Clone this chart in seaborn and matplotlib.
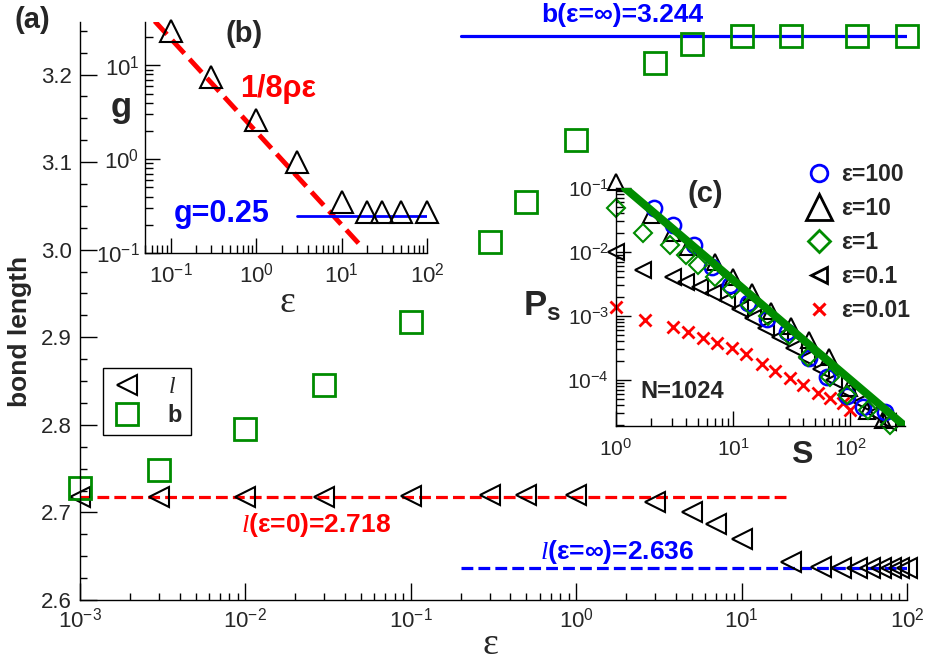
import numpy as np
import seaborn as sns
import matplotlib.pyplot as plt
from matplotlib.lines import Line2D
from matplotlib.ticker import LogLocator, MultipleLocator, FuncFormatter, NullFormatter

# ---- panel (a): bond lengths vs epsilon ----
eps_l = [0.001, 0.003, 0.01, 0.03, 0.1, 0.3, 0.5, 1, 3, 5, 7, 10,
         20, 30, 40, 50, 60, 70, 80, 90, 100]
l_len = [2.718, 2.718, 2.718, 2.718, 2.719, 2.720, 2.720, 2.720, 2.712, 2.700, 2.687, 2.670,
         2.643, 2.638, 2.636, 2.636, 2.636, 2.636, 2.636, 2.636, 2.636]
eps_b = [0.001, 0.003, 0.01, 0.03, 0.1, 0.3, 0.5, 1, 3, 5, 10, 20, 50, 100]
b_len = [2.728, 2.749, 2.795, 2.845, 2.917, 3.009, 3.055, 3.125, 3.213, 3.235,
         3.244, 3.244, 3.244, 3.244]
l_eps0 = 2.718
l_inf = 2.636
b_inf = 3.244
l_eps0_range = [0.001, 20]
inf_range = [0.2, 100]

# ---- inset (b): g vs epsilon ----
eps_g = [0.1, 0.3, 1, 3, 10, 20, 30, 50, 100]
g_vals = [23, 7.6, 2.6, 0.93, 0.35, 0.272, 0.272, 0.272, 0.272]
fit_eps = [0.065, 15.8]
fit_g = [29.6, 0.127]
g_inf = 0.25
g_inf_range = [3, 100]

# ---- inset (c): P_s vs s, N=1024 ----
s_e100 = [2.1, 3.1, 4.6, 6.6, 9.4, 13.5, 19.5, 29, 45, 64, 94, 130, 200]
p_e100 = [0.049, 0.026, 0.013, 0.0059, 0.0030, 0.0016, 9.0e-4, 5.6e-4, 2.2e-4,
          1.1e-4, 5.5e-5, 3.7e-5, 3.2e-5]
s_e10 = [1, 2, 3, 4.1, 7, 10, 14.5, 21, 31, 45, 66, 98, 140, 190]
p_e10 = [0.124, 0.038, 0.020, 0.012, 0.0069, 0.0041, 0.0024, 1.2e-3, 7.0e-4,
         4.2e-4, 2.3e-4, 7.5e-5, 3.3e-5, 2.4e-5]
s_e1 = [1, 1.7, 2.9, 4.0, 5.0, 7.0, 9.8, 14, 20, 30, 44, 67, 94, 142, 220]
p_e1 = [0.049, 0.020, 0.013, 0.0089, 0.0063, 0.0041, 0.0026, 0.0015, 9.8e-4,
        5.0e-4, 2.3e-4, 1.1e-4, 5.9e-5, 3.4e-5, 2.0e-5]
s_e01 = [1, 1.7, 3.1, 4, 5.2, 6.7, 8.9, 11.5, 14.8, 19, 25, 33, 43, 56, 73, 95,
         125, 165, 210]
p_e01 = [0.010, 0.0052, 0.0041, 0.0034, 0.0028, 0.0023, 0.0018, 0.0013, 9.3e-4,
         6.5e-4, 4.6e-4, 3.2e-4, 2.2e-4, 1.5e-4, 1.0e-4, 6.8e-5, 4.5e-5, 3.0e-5, 2.2e-5]
s_e001 = [1, 1.76, 3.1, 4.1, 5.5, 7.3, 9.8, 13, 17.7, 23, 30.6, 40, 53, 67, 87, 100]
p_e001 = [1.4e-3, 8.7e-4, 6.8e-4, 5.6e-4, 4.5e-4, 3.8e-4, 3.2e-4, 2.5e-4, 1.8e-4,
          1.4e-4, 1.07e-4, 8.3e-5, 6.3e-5, 5.2e-5, 4.4e-5, 3.4e-5]
fit_s = [1.19, 284]
fit_p = [0.1, 2.0e-5]

GREEN = '#008c00'
RED = '#ff0000'
BLUE = '#0000ff'

sns.set_style('ticks')
plt.rcParams['font.family'] = ['Liberation Sans', 'DejaVu Sans']
plt.rcParams['mathtext.fontset'] = 'custom'
plt.rcParams['mathtext.rm'] = 'Liberation Sans'
plt.rcParams['mathtext.bf'] = 'Liberation Sans:bold'
plt.rcParams['mathtext.it'] = 'Liberation Serif:italic'


def marks(ax, x, y, marker, color, ms, mew=1.5, fill='none'):
    sns.lineplot(x=x, y=y, ax=ax, linestyle='', marker=marker, color=color,
                 markersize=ms, markeredgewidth=mew, markerfacecolor=fill,
                 markeredgecolor=color, estimator=None, sort=False,
                 legend=False, clip_on=False)


def line(ax, x, y, color, lw, dashes=None):
    kw = dict(linestyle='--', dashes=dashes) if dashes else dict(linestyle='-')
    sns.lineplot(x=x, y=y, ax=ax, color=color, linewidth=lw, estimator=None,
                 sort=False, legend=False, **kw)


def log_fmt(v, pos):
    return r'$10^{%d}$' % int(round(np.log10(v)))


def style(ax, maj, mino, size, pad):
    sns.despine(ax=ax)
    for sp in ['left', 'bottom']:
        ax.spines[sp].set_linewidth(1.0)
        ax.spines[sp].set_color('black')
    ax.tick_params(which='both', direction='in', width=1.0, color='black')
    ax.tick_params(which='major', length=maj, labelsize=size, pad=pad)
    ax.tick_params(which='minor', length=mino)
    ax.patch.set_alpha(0)


def logaxis(axis):
    axis.set_major_locator(LogLocator(base=10, numticks=12))
    axis.set_minor_locator(LogLocator(base=10, subs=range(2, 10), numticks=12))
    axis.set_major_formatter(FuncFormatter(log_fmt))
    axis.set_minor_formatter(NullFormatter())


W, H = 925, 666
fig = plt.figure(figsize=(W / 100, H / 100), dpi=100)


def box(l, r, t, b):
    return [l / W, 1 - b / H, (r - l) / W, (b - t) / H]


def ftext(x, y, s, **kw):
    fig.text(x / W, 1 - y / H, s, ha=kw.pop('ha', 'center'), va=kw.pop('va', 'center'), **kw)


# ---------- main panel ----------
ax = fig.add_axes(box(80, 907, 22, 600))
ax.set_xscale('log')
line(ax, l_eps0_range, [l_eps0, l_eps0], RED, 2.3, dashes=(5, 3.5))
line(ax, inf_range, [l_inf, l_inf], BLUE, 2.3, dashes=(5, 3.5))
line(ax, inf_range, [b_inf, b_inf], BLUE, 2.3)
marks(ax, eps_l, l_len, '<', 'black', 14)
marks(ax, eps_b, b_len, 's', GREEN, 16, mew=2)
ax.set_xlim(1e-3, 1e2)
ax.set_ylim(2.6, 3.26)
logaxis(ax.xaxis)
ax.yaxis.set_major_locator(MultipleLocator(0.1))
ax.yaxis.set_minor_locator(MultipleLocator(0.025))
ax.yaxis.set_major_formatter(FuncFormatter(lambda v, p: '%.1f' % v))
style(ax, 12, 5, 16, 6)

hl = [Line2D([], [], ls='', marker='<', ms=14, mew=1.5, mfc='none', mec='black'),
      Line2D([], [], ls='', marker='s', ms=16, mew=2, mfc='none', mec=GREEN)]
leg = ax.legend(hl, [r'$\mathit{l}$', 'b'], loc='upper left',
                bbox_to_anchor=(103 / W, 1 - 368 / H), bbox_transform=fig.transFigure,
                borderaxespad=0, borderpad=0.35, handlelength=1.3, handletextpad=1.1,
                labelspacing=0.25, fontsize=17, frameon=True, fancybox=False,
                edgecolor='black', framealpha=1)
leg.get_frame().set_linewidth(1.0)
leg.get_texts()[1].set_fontweight('bold')

# ---------- inset (b) ----------
axb = fig.add_axes(box(145, 427, 22, 253))
axb.set_xscale('log')
axb.set_yscale('log')
line(axb, fit_eps, fit_g, RED, 3.5, dashes=(4, 2.5))
line(axb, g_inf_range, [g_inf, g_inf], BLUE, 2.0)
marks(axb, eps_g, g_vals, '^', 'black', 16)
axb.set_xlim(0.05, 100)
axb.set_ylim(0.1, 29)
logaxis(axb.xaxis)
logaxis(axb.yaxis)
style(axb, 11, 6, 16, 4)
axb.tick_params(axis='x', which='major', pad=7)

# ---------- inset (c) ----------
axc = fig.add_axes(box(616, 905, 188, 426))
axc.set_xscale('log')
axc.set_yscale('log')
marks(axc, s_e001, p_e001, 'x', RED, 8, mew=2)
marks(axc, s_e01, p_e01, '<', 'black', 11)
marks(axc, s_e10, p_e10, '^', 'black', 12)
marks(axc, s_e100, p_e100, 'o', BLUE, 11, mew=1.8)
marks(axc, s_e1, p_e1, 'D', GREEN, 9)
line(axc, fit_s, fit_p, GREEN, 5.8)
axc.set_xlim(1, 295)
axc.set_ylim(1.9e-5, 0.1)
logaxis(axc.xaxis)
logaxis(axc.yaxis)
style(axc, 11, 6, 15, 5)
axc.tick_params(axis='x', which='major', pad=9)

hc = [Line2D([], [], ls='', marker='o', ms=12, mew=2, mfc='none', mec=BLUE),
      Line2D([], [], ls='', marker='^', ms=19, mew=2, mfc='none', mec='black'),
      Line2D([], [], ls='', marker='D', ms=11, mew=2, mfc='none', mec=GREEN),
      Line2D([], [], ls='', marker='<', ms=12, mew=2, mfc='none', mec='black'),
      Line2D([], [], ls='', marker='x', ms=9, mew=2.2, mfc='none', mec=RED)]
legc = axc.legend(hc, ['ε=100', 'ε=10', 'ε=1', 'ε=0.1', 'ε=0.01'], loc='upper left',
                  bbox_to_anchor=(808 / W, 1 - 163 / H), bbox_transform=fig.transFigure,
                  borderaxespad=0, borderpad=0, handlelength=1.0, handletextpad=0.45,
                  labelspacing=0.48, frameon=False, prop={'weight': 'bold', 'size': 16.5})

# ---------- labels ----------
ftext(32, 20, '(a)', fontsize=21, fontweight='bold')
ftext(244, 34, '(b)', fontsize=21, fontweight='bold')
ftext(705, 194, '(c)', fontsize=21, fontweight='bold')
ftext(20, 331, 'bond length', fontsize=19, fontweight='bold', rotation=90)
ftext(490, 645, 'ε', fontsize=27, family=['Liberation Serif', 'DejaVu Serif'])
ftext(287, 303, 'ε', fontsize=27, family=['Liberation Serif', 'DejaVu Serif'])
ftext(121, 108, 'g', fontsize=25, fontweight='bold')
ftext(278, 89, '1/8ρε', fontsize=22, fontweight='bold', color=RED)
ftext(222, 214, 'g=0.25', fontsize=22, fontweight='bold', color=BLUE)
ftext(622, 15, 'b(ε=∞)=3.244', fontsize=19, fontweight='bold', color=BLUE)
ftext(316, 525, r'$\mathit{l}$(ε=0)=2.718', fontsize=19, fontweight='bold', color=RED)
ftext(617, 552, r'$\mathit{l}$(ε=∞)=2.636', fontsize=19, fontweight='bold', color=BLUE)
ftext(682, 392, 'N=1024', fontsize=17, fontweight='bold')
ftext(542, 306, r'$\mathbf{P_s}$', fontsize=25)
ftext(802, 455, 'S', fontsize=23, fontweight='bold')

fig.savefig('out.png', dpi=100)
